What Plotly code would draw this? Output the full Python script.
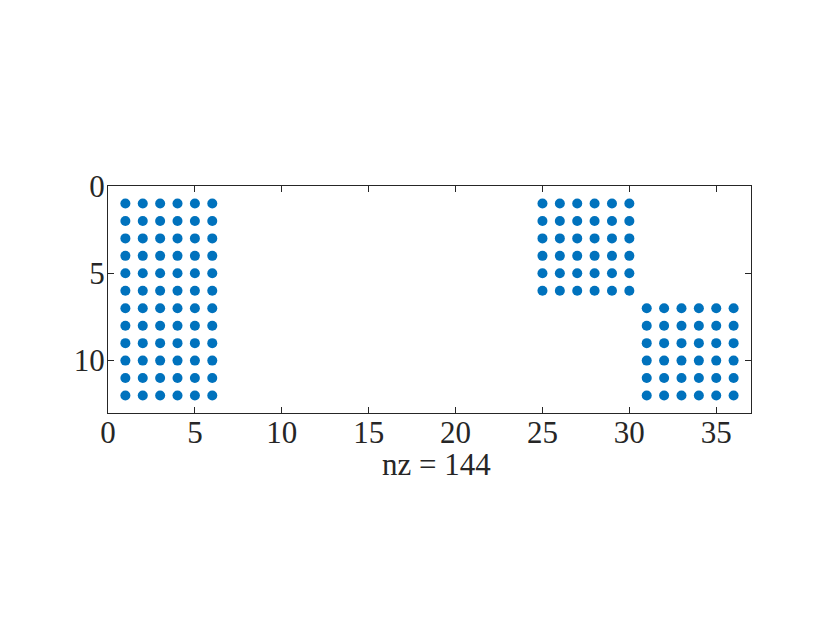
import plotly.graph_objects as go

# Nonzero block pattern (columns x rows) of the sparse matrix
block_cols = [[1, 2, 3, 4, 5, 6], [25, 26, 27, 28, 29, 30], [31, 32, 33, 34, 35, 36]]
block_rows = [list(range(1, 13)), [1, 2, 3, 4, 5, 6], [7, 8, 9, 10, 11, 12]]
x_ticks = [0, 5, 10, 15, 20, 25, 30, 35]
y_ticks = [0, 5, 10]
nz_label = "nz = 144"

xs, ys = [], []
for cols, rows in zip(block_cols, block_rows):
    for r in rows:
        for c in cols:
            xs.append(c)
            ys.append(r)

fig = go.Figure(go.Scatter(
    x=xs, y=ys, mode="markers",
    marker=dict(color="#0072BD", size=10, line=dict(width=0)),
    hoverinfo="skip"))

FONT = "Liberation Serif, Times New Roman, serif"
axis_common = dict(
    showgrid=False, zeroline=False, showline=True, linecolor="#262626", linewidth=1,
    mirror="ticks", ticks="inside", ticklen=6, tickcolor="#262626", tickwidth=1,
    tickfont=dict(family=FONT, size=31, color="#262626"),
)
fig.update_layout(
    width=830, height=623,
    margin=dict(l=100, r=87, t=178, b=218),
    paper_bgcolor="white", plot_bgcolor="white",
    showlegend=False,
    xaxis=dict(range=[0, 37], tickvals=x_ticks, ticklabelstandoff=-8, **axis_common),
    yaxis=dict(range=[13, 0], tickvals=y_ticks, ticklabelstandoff=-4, **axis_common),
    annotations=[dict(text=nz_label, xref="paper", yref="paper", x=0.5, y=0,
                      xanchor="center", yanchor="middle", xshift=7, yshift=-51,
                      showarrow=False,
                      font=dict(family=FONT, size=31, color="#262626"))],
)
fig.write_html("out.html")
